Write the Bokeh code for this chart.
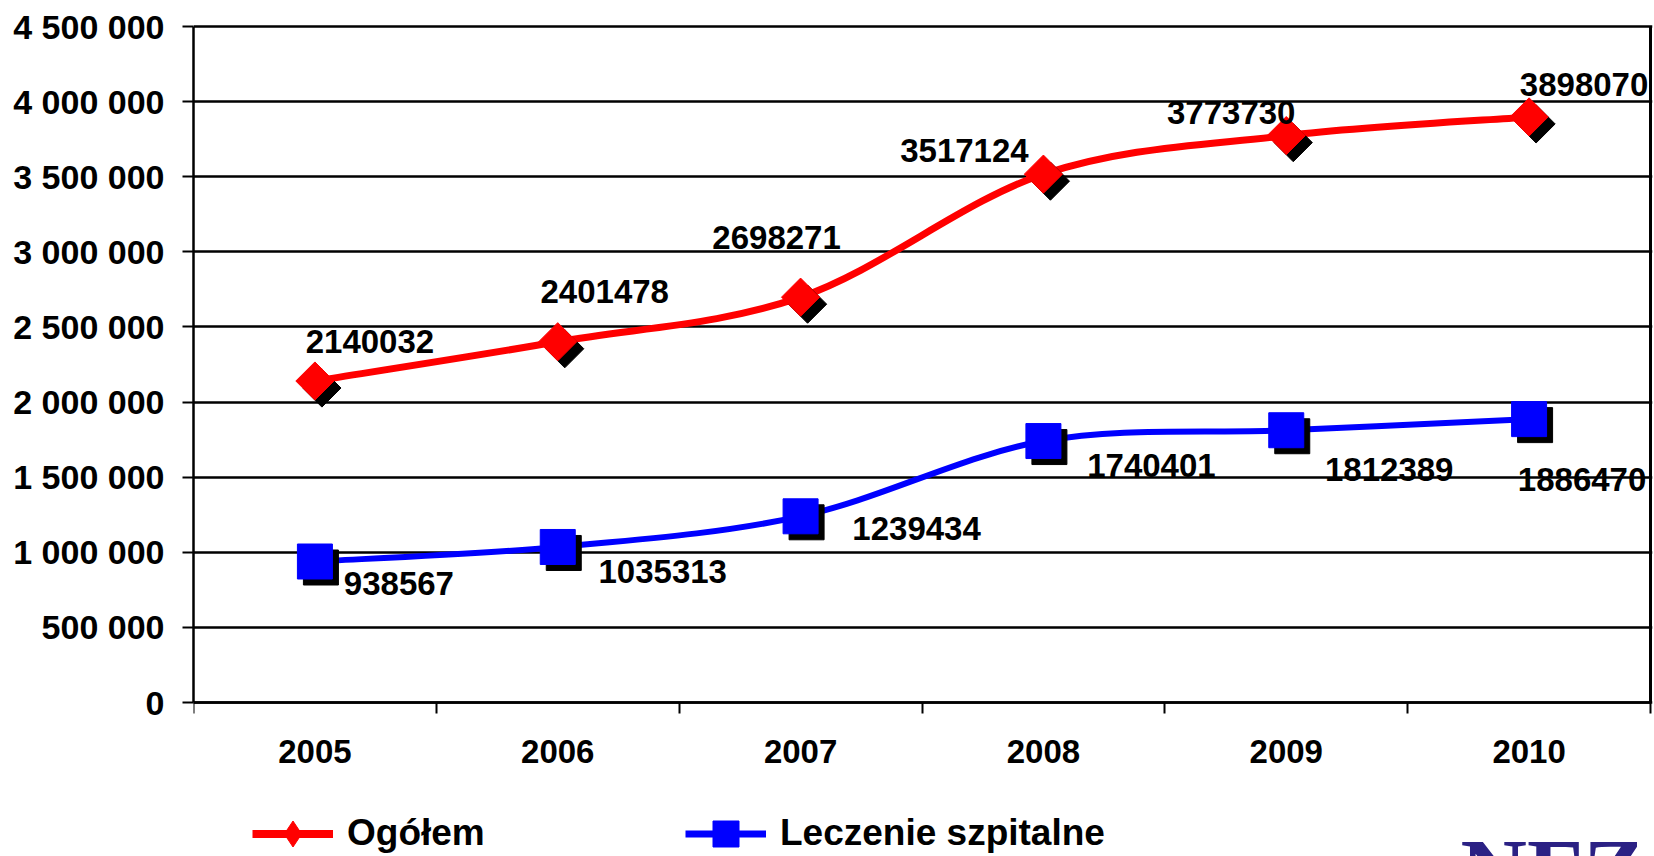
import math
import numpy as np
from bokeh.plotting import figure
from bokeh.models import (Range1d, FixedTicker, LinearAxis, LabelSet, ColumnDataSource,
                          Legend, LegendItem, Label)
from bokeh.core.properties import value
from bokeh.embed import file_html
from bokeh.resources import INLINE

# ---------------- data ----------------
years = ["2005", "2006", "2007", "2008", "2009", "2010"]
ogolem = [2140032, 2401478, 2698271, 3517124, 3773730, 3898070]
szpitalne = [938567, 1035313, 1239434, 1740401, 1812389, 1886470]
y_ticks = [0, 500000, 1000000, 1500000, 2000000, 2500000, 3000000, 3500000, 4000000, 4500000]
series_names = ["Ogółem", "Leczenie szpitalne"]
logo_text = "NFZ"

# ---------------- style / layout (pixels) ----------------
W, H = 1654, 856
PLOT_L, PLOT_R = 193, 1650      # x of category edges 0 and NCAT
PLOT_T, PLOT_B = 26, 702        # y of YMAX and 0
PAD = 2
FONT = "Liberation Sans"
RED = "#ff0000"
BLUE = "#0000ff"
YMAX = y_ticks[-1]
NCAT = len(years)
KX = (PLOT_R - PLOT_L) / NCAT   # px per category
KY = (PLOT_B - PLOT_T) / YMAX   # px per unit

# label offsets in screen px (dx right, dy down)
red_dx = [55, 47, -24, -79, -55, 55]
red_dy = [-40, -50, -60, -24, -23, -32]
blue_dx = [84, 105, 116, 108, 103, 53]
blue_dy = [22, 25, 12, 24, 39, 60]

xs = [i + 0.5 for i in range(NCAT)]

def px_dx(px):
    return px / KX

def px_dy(px):  # screen px down -> data
    return -px / KY

def smooth(xv, yv):
    n = len(xv)
    pts = list(zip(xv, yv))
    d = dict(x0=[], y0=[], x1=[], y1=[], cx0=[], cy0=[], cx1=[], cy1=[])
    for i in range(n - 1):
        p0 = pts[max(i - 1, 0)]
        p1 = pts[i]
        p2 = pts[i + 1]
        p3 = pts[min(i + 2, n - 1)]
        d["x0"].append(p1[0]); d["y0"].append(p1[1])
        d["x1"].append(p2[0]); d["y1"].append(p2[1])
        d["cx0"].append(p1[0] + (p2[0] - p0[0]) / 6.0)
        d["cy0"].append(p1[1] + (p2[1] - p0[1]) / 6.0)
        d["cx1"].append(p2[0] - (p3[0] - p1[0]) / 6.0)
        d["cy1"].append(p2[1] - (p3[1] - p1[1]) / 6.0)
    return ColumnDataSource(d)

x_range = Range1d(0, NCAT + PAD / KX)
y_range = Range1d(-(H - PLOT_B) / KY, YMAX + PAD / KY)

p = figure(width=W, height=H, x_range=x_range, y_range=y_range,
           output_backend="svg", toolbar_location=None, x_axis_location=None,
           min_border_left=PLOT_L, min_border_right=W - PLOT_R - PAD,
           min_border_top=PLOT_T - PAD, min_border_bottom=0)
p.outline_line_color = None
p.background_fill_color = "white"
p.border_fill_color = "white"

# x axis fixed at y = 0
xaxis = LinearAxis(fixed_location=0,
                   ticker=FixedTicker(ticks=xs, minor_ticks=list(range(NCAT + 1))))
xaxis.major_label_overrides = {x: y for x, y in zip(xs, years)}
xaxis.bounds = (0, NCAT)
xaxis.major_tick_out = 0
xaxis.major_tick_in = 0
xaxis.minor_tick_out = 11
xaxis.minor_tick_in = 0
xaxis.minor_tick_line_color = "black"
xaxis.minor_tick_line_width = 2
xaxis.axis_line_color = "black"
xaxis.axis_line_width = 2.5
xaxis.major_label_standoff = 26
xaxis.major_label_text_font = FONT
xaxis.major_label_text_font_style = "bold"
xaxis.major_label_text_font_size = "33px"
xaxis.major_label_text_color = "black"
p.add_layout(xaxis, "below")

p.yaxis.ticker = FixedTicker(ticks=y_ticks)
p.yaxis.bounds = (0, YMAX)
p.yaxis.major_label_overrides = {t: f"{t:,}".replace(",", " ") for t in y_ticks}
p.yaxis.major_tick_out = 11
p.yaxis.major_tick_in = 0
p.yaxis.major_tick_line_width = 2
p.yaxis.major_tick_line_color = "black"
p.yaxis.minor_tick_line_color = None
p.yaxis.axis_line_color = "black"
p.yaxis.axis_line_width = 2.5
p.yaxis.major_label_standoff = 18
p.yaxis.major_label_text_font = FONT
p.yaxis.major_label_text_font_style = "bold"
p.yaxis.major_label_text_font_size = "34px"
p.yaxis.major_label_text_color = "black"

p.xgrid.visible = False
p.ygrid.ticker = FixedTicker(ticks=y_ticks)
p.ygrid.bounds = (0, NCAT)
p.ygrid.grid_line_color = "black"
p.ygrid.grid_line_width = 2.5

# right border of the plot area
p.segment(x0=[NCAT], y0=[0], x1=[NCAT], y1=[YMAX], line_color="black", line_width=3)

# lines (smoothed)
p.bezier(x0="x0", y0="y0", x1="x1", y1="y1", cx0="cx0", cy0="cy0", cx1="cx1", cy1="cy1",
         source=smooth(xs, ogolem), line_color=RED, line_width=7, line_cap="round")
p.bezier(x0="x0", y0="y0", x1="x1", y1="y1", cx0="cx0", cy0="cy0", cx1="cx1", cy1="cy1",
         source=smooth(xs, szpitalne), line_color=BLUE, line_width=6, line_cap="round")

# marker shadows
p.scatter([x + px_dx(7) for x in xs], [y + px_dy(7) for y in ogolem], marker="square",
          size=27, angle=math.pi / 4, fill_color="black", line_color="black")
p.scatter([x + px_dx(6) for x in xs], [y + px_dy(6) for y in szpitalne], marker="square",
          size=35, fill_color="black", line_color="black")
# markers
p.scatter(xs, ogolem, marker="square", size=27, angle=math.pi / 4,
          fill_color=RED, line_color=RED)
p.scatter(xs, szpitalne, marker="square", size=35, fill_color=BLUE, line_color=BLUE)

# data labels
src_r = ColumnDataSource(dict(x=xs, y=ogolem, t=[str(v) for v in ogolem],
                              dx=red_dx, dy=[-d for d in red_dy]))
src_b = ColumnDataSource(dict(x=xs, y=szpitalne, t=[str(v) for v in szpitalne],
                              dx=blue_dx, dy=[-d for d in blue_dy]))
for src in (src_r, src_b):
    p.add_layout(LabelSet(x="x", y="y", text="t", source=src, x_offset="dx", y_offset="dy",
                          text_font=value(FONT), text_font_style="bold",
                          text_font_size="33px", text_color="black",
                          text_align="center", text_baseline="middle"))

# legend (legend-only renderers; NaN data is never drawn in the plot)
nan1 = np.array([np.nan])
l1 = p.line(nan1, nan1, line_color=RED, line_width=8)
m1 = p.scatter(nan1, nan1, marker="diamond", fill_color=RED, line_color=RED)
l2 = p.line(nan1, nan1, line_color=BLUE, line_width=7)
m2 = p.scatter(nan1, nan1, marker="square", fill_color=BLUE, line_color=BLUE)

LEG_H = 65
LEG_CY = 833
leg = Legend(items=[LegendItem(label=series_names[0], renderers=[l1, m1]),
                    LegendItem(label=series_names[1], renderers=[l2, m2])],
             orientation="horizontal",
             location=(252 - PLOT_L, H - (LEG_CY + LEG_H / 2)),
             glyph_width=81, glyph_height=LEG_H, label_height=LEG_H, label_width=338,
             label_standoff=14, spacing=0, padding=0, margin=0,
             border_line_color=None, background_fill_color=None, background_fill_alpha=0,
             label_text_font=FONT, label_text_font_style="bold",
             label_text_font_size="37px", label_text_color="black")
p.add_layout(leg)

# NFZ logo (partially visible at the bottom edge)
p.add_layout(Label(x=px_dx(1460 - PLOT_L), y=px_dy(819 - PLOT_B), text=logo_text,
                   text_font="Liberation Serif", text_font_style="bold",
                   text_font_size="92px", text_color="#2b2184",
                   text_baseline="top", text_align="left"))

open("out.html", "w").write(file_html(p, INLINE))
